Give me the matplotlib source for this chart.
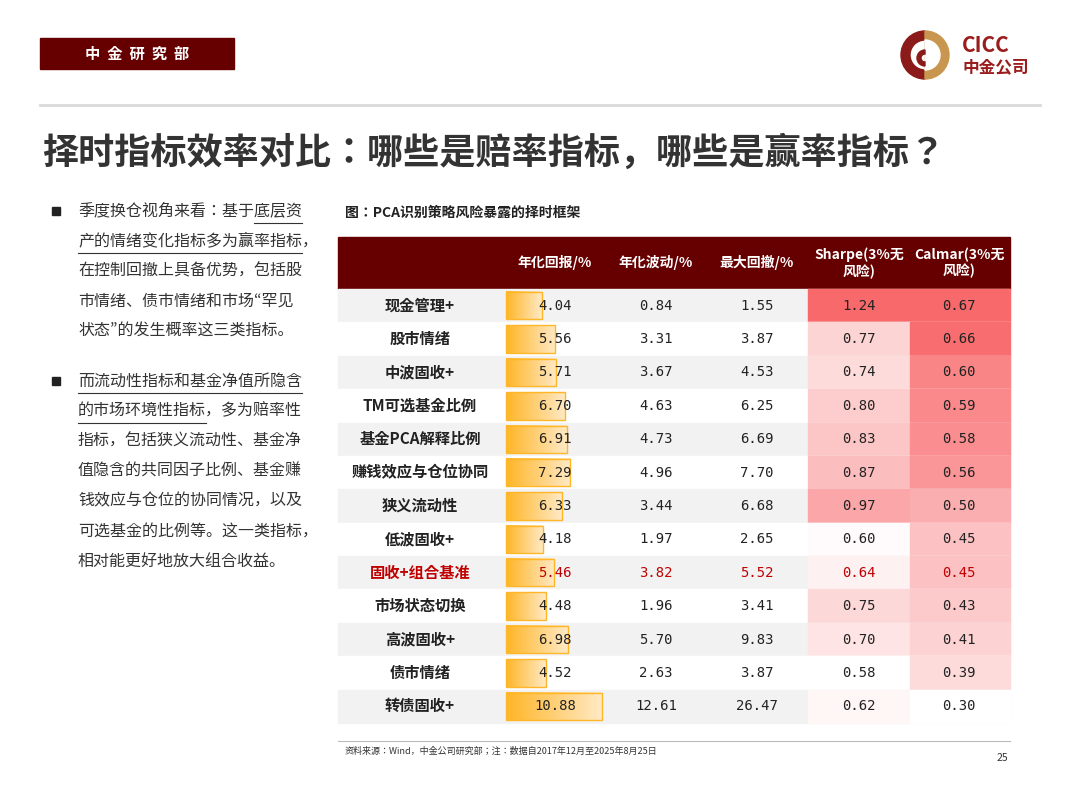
import matplotlib
matplotlib.use("Agg")
import matplotlib.pyplot as plt
from matplotlib import font_manager as fm
from matplotlib.font_manager import FontProperties
from matplotlib.patches import Rectangle, Wedge
from matplotlib.colors import LinearSegmentedColormap
import numpy as np

paths = fm.findSystemFonts()
def find(key):
    c = [p for p in paths if "NotoSansCJK" in p.replace(" ", "") and key in p]
    c = sorted(c, key=lambda p: ("SC" not in p, len(p)))
    return c[0] if c else None
REG = find("Regular") or find("DemiLight")
BOLD = find("Bold") or REG
print(REG, BOLD)

def fp(size, bold=False):
    return FontProperties(fname=BOLD if bold else REG, size=size)

strategies = ["现金管理+", "股市情绪", "中波固收+", "TM可选基金比例", "基金PCA解释比例",
              "赚钱效应与仓位协同", "狭义流动性", "低波固收+", "固收+组合基准", "市场状态切换",
              "高波固收+", "债市情绪", "转债固收+"]
ann_return = [4.04, 5.56, 5.71, 6.70, 6.91, 7.29, 6.33, 4.18, 5.46, 4.48, 6.98, 4.52, 10.88]
ann_vol = [0.84, 3.31, 3.67, 4.63, 4.73, 4.96, 3.44, 1.97, 3.82, 1.96, 5.70, 2.63, 12.61]
max_dd = [1.55, 3.87, 4.53, 6.25, 6.69, 7.70, 6.68, 2.65, 5.52, 3.41, 9.83, 3.87, 26.47]
sharpe = [1.24, 0.77, 0.74, 0.80, 0.83, 0.87, 0.97, 0.60, 0.64, 0.75, 0.70, 0.58, 0.62]
calmar = [0.67, 0.66, 0.60, 0.59, 0.58, 0.56, 0.50, 0.45, 0.45, 0.43, 0.41, 0.39, 0.30]
headers = ["年化回报/%", "年化波动/%", "最大回撤/%", "Sharpe(3%无\n风险)", "Calmar(3%无\n风险)"]
benchmark = "固收+组合基准"

fig = plt.figure(figsize=(10.8, 8.1), dpi=100)
ax = fig.add_axes([0, 0, 1, 1])
ax.set_xlim(0, 1080); ax.set_ylim(810, 0); ax.axis("off")
renderer = fig.canvas.get_renderer()

DARK = "#660000"
ax.add_patch(Rectangle((40, 38), 194, 31, color=DARK))
ax.text(137, 54, "中  金  研  究  部", color="white", fontproperties=fp(11, True), ha="center", va="center")
ax.plot([40, 1040], [105, 105], color="#d9d9d9", lw=2)
ax.add_patch(Wedge((925, 55), 24, 90, 270, width=9, color="#8b1a1a"))
ax.add_patch(Wedge((925, 55), 24, -90, 90, color="#c8964e"))
ax.add_patch(Wedge((925, 55), 15, -90, 90, color="white"))
ax.add_patch(Wedge((925, 58), 8, 90, 270, width=4, color="#8b1a1a"))
ax.text(962, 45, "CICC", color="#9b1c1c", fontproperties=fp(15, True), va="center")
ax.text(962, 67, "中金公司", color="#9b1c1c", fontproperties=fp(12, True), va="center")
ax.text(42, 153, "择时指标效率对比：哪些是赔率指标，哪些是赢率指标？", fontproperties=fp(26, True),
        color="#333333", va="center")

lines1 = [("季度换仓视角来看：基于", "底层资", ""), ("", "产的情绪变化指标多为赢率指标", "，"),
          ("在控制回撤上具备优势，包括股", "", ""),
          ("市情绪、债市情绪和市场“罕见", "", ""), ("状态”的发生概率这三类指标。", "", "")]
lines2 = [("", "而流动性指标和基金净值所隐含", ""), ("", "的市场环境性指标", "，多为赔率性"),
          ("指标，包括狭义流动性、基金净", "", ""),
          ("值隐含的共同因子比例、基金赚", "", ""), ("钱效应与仓位的协同情况，以及", "", ""),
          ("可选基金的比例等。这一类指标，", "", ""), ("相对能更好地放大组合收益。", "", "")]
FS = 11.5

def width_px(s):
    if not s:
        return 0
    t = ax.text(0, 0, s, fontproperties=fp(FS))
    w = t.get_window_extent(renderer).width
    t.remove()
    return w

def draw_block(lines, y0):
    ax.add_patch(Rectangle((52, y0 - 4), 8, 8, color="#222222"))
    for i, (a, u, tail) in enumerate(lines):
        y = y0 + i * 30
        x = 78
        ax.text(x, y, a + u + tail, fontproperties=fp(FS), va="center", color="#333333")
        if u:
            xa = x + width_px(a)
            ax.plot([xa, x + width_px(a + u)], [y + 12, y + 12], color="#333333", lw=0.8)
draw_block(lines1, 211)
draw_block(lines2, 381)

ax.text(345, 213, "图：PCA识别策略风险暴露的择时框架", fontproperties=fp(10, True), va="center", color="#222222")

x0, x1 = 338, 1010
hy0, hy1 = 237, 289
ax.add_patch(Rectangle((x0, hy0), x1 - x0, hy1 - hy0, color=DARK))
col_c = [555, 656, 757, 859, 959]
for c, h in zip(col_c, headers):
    ax.text(c, 263, h, color="white", fontproperties=fp(10, True), ha="center", va="center", linespacing=1.2)
rh = (723 - hy1) / len(strategies)

def heat(v, vals):
    t = (v - min(vals)) / (max(vals) - min(vals))
    w = np.array([1, 1, 1]); r = np.array([0xf8, 0x69, 0x6b]) / 255
    return tuple(w + (r - w) * t)

cmap = LinearSegmentedColormap.from_list("g", ["#ffb628", "#ffe9c4"])
bar_x0, bar_max = 506, 96
for i, s in enumerate(strategies):
    y = hy1 + i * rh
    ax.add_patch(Rectangle((x0, y), x1 - x0, rh, color="#f2f2f2" if i % 2 == 0 else "white"))
    ax.add_patch(Rectangle((808, y), 102, rh, color=heat(sharpe[i], sharpe)))
    ax.add_patch(Rectangle((910, y), 100, rh, color=heat(calmar[i], calmar)))
    bw = ann_return[i] / max(ann_return) * bar_max
    grad = np.linspace(0, 1, 50)[None, :]
    ax.imshow(grad, cmap=cmap, extent=(bar_x0, bar_x0 + bw, y + rh - 3, y + 3), aspect="auto", zorder=2)
    ax.add_patch(Rectangle((bar_x0, y + 3), bw, rh - 6, fill=False, ec="#ffb628", lw=1, zorder=3))
    col = "#c00000" if s == benchmark else "#222222"
    cy = y + rh / 2
    ax.text(420, cy, s, fontproperties=fp(11, True), ha="center", va="center", color=col, zorder=4)
    for c, v in zip(col_c, [ann_return[i], ann_vol[i], max_dd[i], sharpe[i], calmar[i]]):
        ax.text(c, cy, f"{v:.2f}", fontsize=10, ha="center", va="center", color=col, zorder=4,
                family="DejaVu Sans Mono")
ax.set_xlim(0, 1080); ax.set_ylim(810, 0)

ax.plot([338, 1010], [741, 741], color="#bbbbbb", lw=0.8)
ax.text(345, 751, "资料来源：Wind，中金公司研究部；注：数据自2017年12月至2025年8月25日", fontproperties=fp(6.5),
        va="center", color="#333333")
ax.text(1008, 758, "25", fontproperties=fp(7.5), ha="right", va="center", color="#333333")

fig.savefig("out.png", dpi=100)
